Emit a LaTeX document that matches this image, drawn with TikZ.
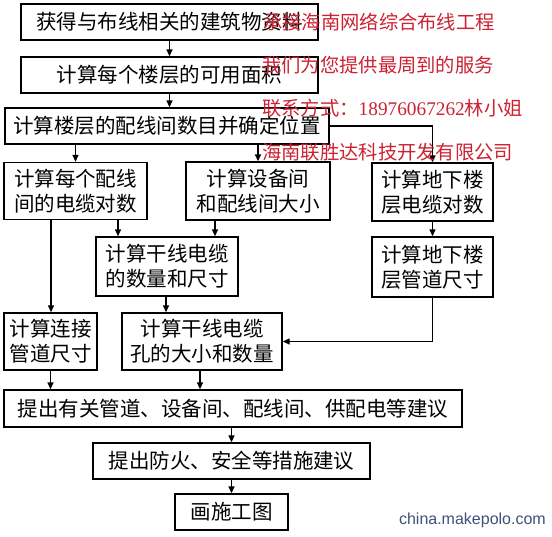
\documentclass[tikz,border=0pt]{standalone}
\usepackage{fontspec}
\setmainfont{Liberation Serif}
\newfontfamily\cjk{Noto Sans CJK SC}
\newfontfamily\digitfont{Liberation Serif}
\newfontfamily\latinsans{Liberation Sans}
\usetikzlibrary{arrows.meta}
\definecolor{wmred}{RGB}{204,34,51}
\definecolor{sitecol}{RGB}{62,82,125}
\begin{document}
\begin{tikzpicture}[x=1pt,y=-1pt,
  box/.style={draw=black, line width=1.4pt, fill=white, inner sep=0pt, align=center,
    font=\cjk\fontsize{20.5}{25}\selectfont, text=black},
  conn/.style={line width=1.4pt, -{Triangle[length=7pt,width=6pt]}},
  wm/.style={anchor=west, inner sep=0pt, text=wmred, font=\cjk\fontsize{19.3}{22}\selectfont}]
\useasboundingbox (0,0) rectangle (552,536);
\fill[white] (0,0) rectangle (552,536);

\node[box, minimum width=297pt, minimum height=36pt] (b1) at (169.5,22) {获得与布线相关的建筑物资料};
\node[box, minimum width=297pt, minimum height=36pt] (b2) at (169.5,75) {计算每个楼层的可用面积};
\node[box, minimum width=324pt, minimum height=36pt] (b3) at (167,126) {计算楼层的配线间数目并确定位置};
\node[box, minimum width=143pt, minimum height=57pt] (b4) at (75.5,191) {计算每个配线\\间的电缆对数};
\node[box, minimum width=144pt, minimum height=58pt] (b5) at (258,191) {计算设备间\\和配线间大小};
\node[box, minimum width=121pt, minimum height=58pt] (b6) at (432.5,192) {计算地下楼\\层电缆对数};
\node[box, minimum width=121pt, minimum height=60pt] (b7) at (432.5,267) {计算地下楼\\层管道尺寸};
\node[box, minimum width=142pt, minimum height=59pt] (b8) at (167,266.5) {计算干线电缆\\的数量和尺寸};
\node[box, minimum width=160pt, minimum height=57pt] (b9) at (202,341.5) {计算干线电缆\\孔的大小和数量};
\node[box, minimum width=93pt, minimum height=57pt] (b10) at (50.5,341.5) {计算连接\\管道尺寸};
\node[box, minimum width=458pt, minimum height=37pt] (b11) at (233,408.5) {提出有关管道、设备间、配线间、供配电等建议};
\node[box, minimum width=277pt, minimum height=36pt] (b12) at (231.5,461) {提出防火、安全等措施建议};
\node[box, minimum width=113pt, minimum height=36pt] (b13) at (231.5,512) {画施工图};

\coordinate (x51) at (51,0);
\coordinate (x118) at (118,0);
\coordinate (x215) at (215,0);
\coordinate (x166) at (166,0);
\coordinate (x200) at (200,0);

\draw[conn] (b1.south) -- (b1.south |- b2.north);
\draw[conn] (b2.south) -- (b2.south |- b3.north);
\draw[conn] (b3.south -| b4.north) -- (b4.north);
\draw[conn] (b3.south -| b5.north) -- (b5.north);
\draw[conn] (b3.east) -- (b3.east -| b6.north) -- (b6.north);
\draw[conn] (b6.south) -- (b7.north);
\draw[conn] (b4.south -| x118) -- (b8.north -| x118);
\draw[conn] (b5.south -| x215) -- (b8.north -| x215);
\draw[conn] (b4.south -| x51) -- (b10.north -| x51);
\draw[conn] (b8.south -| x166) -- (b9.north -| x166);
\draw[conn] (b7.south) -- (b7.south |- b9.east) -- (b9.east);
\draw[conn] (b10.south) -- (b10.south |- b11.north);
\draw[conn] (b9.south -| x200) -- (b11.north -| x200);
\draw[conn] (b12.north |- b11.south) -- (b12.north);
\draw[conn] (b12.south) -- (b12.south |- b13.north);

\node[wm] (wm1) at (263,22) {承接海南网络综合布线工程};
\node[wm] (wm2) at (262,65) {我们为您提供最周到的服务};
\node[wm] (wm3) at (262,108) {联系方式：{\digitfont 18976067262}林小姐};
\node[wm] (wm4) at (262,152) {海南联胜达科技开发有限公司};

\node[anchor=east, inner sep=0pt, text=sitecol, font=\latinsans\fontsize{16}{18}\selectfont] (site) at (546,520) {china.makepolo.com};
\end{tikzpicture}
\end{document}
